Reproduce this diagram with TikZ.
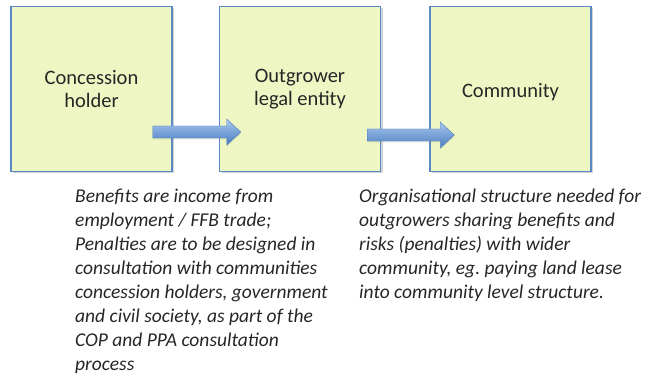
\documentclass[tikz,border=0pt]{standalone}
\usepackage{fontspec}
\setmainfont{Carlito}
\usetikzlibrary{positioning}
\usetikzlibrary{shadows}
\definecolor{BOXFILL}{HTML}{EEF6C4}
\definecolor{BOXLINE}{HTML}{5A89C6}
\definecolor{ARROW_T}{HTML}{A9C8F0}
\definecolor{ARROW_B}{HTML}{4A7DC0}
\definecolor{INK}{HTML}{262626}
\tikzset{
	party/.style = {draw=BOXLINE, fill=BOXFILL, line width=1.5pt,
		minimum width=161pt, minimum height=165pt, align=center,
		text=INK, font=\fontsize{20.5}{23.5}\selectfont,
		execute at begin node={\rule{0pt}{20pt}},
		drop shadow={shadow xshift=2pt, shadow yshift=-2pt, opacity=.35}},
	flow/.style = {top color=ARROW_T, bottom color=ARROW_B,
		draw=ARROW_B, line width=.4pt, line join=miter,
		drop shadow={shadow xshift=0pt, shadow yshift=-1.5pt, opacity=.25}},
	note/.style = {align=left, anchor=north west, inner sep=0pt, text=INK,
		font=\fontsize{19.5}{24}\selectfont\itshape}
}
% block arrow from <name> tail to <name> tip
\newcommand{\flowarrow}[1]{%
	\shadedraw[flow] ([yshift=6pt]#1 tail) -- ([shift={(-14pt,6pt)}]#1 tip)
		-- ([shift={(-14pt,13pt)}]#1 tip) -- (#1 tip)
		-- ([shift={(-14pt,-13pt)}]#1 tip) -- ([shift={(-14pt,-6pt)}]#1 tip)
		-- ([yshift=-6pt]#1 tail) -- cycle;}

\begin{document}
\begin{tikzpicture}
	\useasboundingbox (0,0) rectangle (650pt,377pt);
	% the three parties
	\node[party] (holder) at (91.5pt,288pt) {Concession\\holder};
	\node[party, right=46pt of holder] (entity) {Outgrower\\legal entity};
	\node[party, right=48pt of entity] (community) {Community};
	% block arrows between them
	\coordinate (flowa tail) at ([shift={(-20pt,-43pt)}]holder.east);
	\coordinate (flowa tip) at ([shift={(22pt,-43pt)}]entity.west);
	\coordinate (flowb tail) at ([shift={(-14pt,-46pt)}]entity.east);
	\coordinate (flowb tip) at ([shift={(25pt,-46pt)}]community.west);
	\flowarrow{flowa}
	\flowarrow{flowb}
	% notes below
	\node[note] (benefits) at (75pt,188pt) {Benefits are income from\\
		employment / FFB trade;\\
		Penalties are to be designed in\\
		consultation with communities\\
		concession holders, government\\
		and civil society, as part of the\\
		COP and PPA consultation\\
		process};
	\node[note] (structure) at (359pt,188pt) {Organisational structure needed for\\
		outgrowers sharing benefits and\\
		risks (penalties) with wider\\
		community, eg.\ paying land lease\\
		into community level structure.};
\end{tikzpicture}
\end{document}
